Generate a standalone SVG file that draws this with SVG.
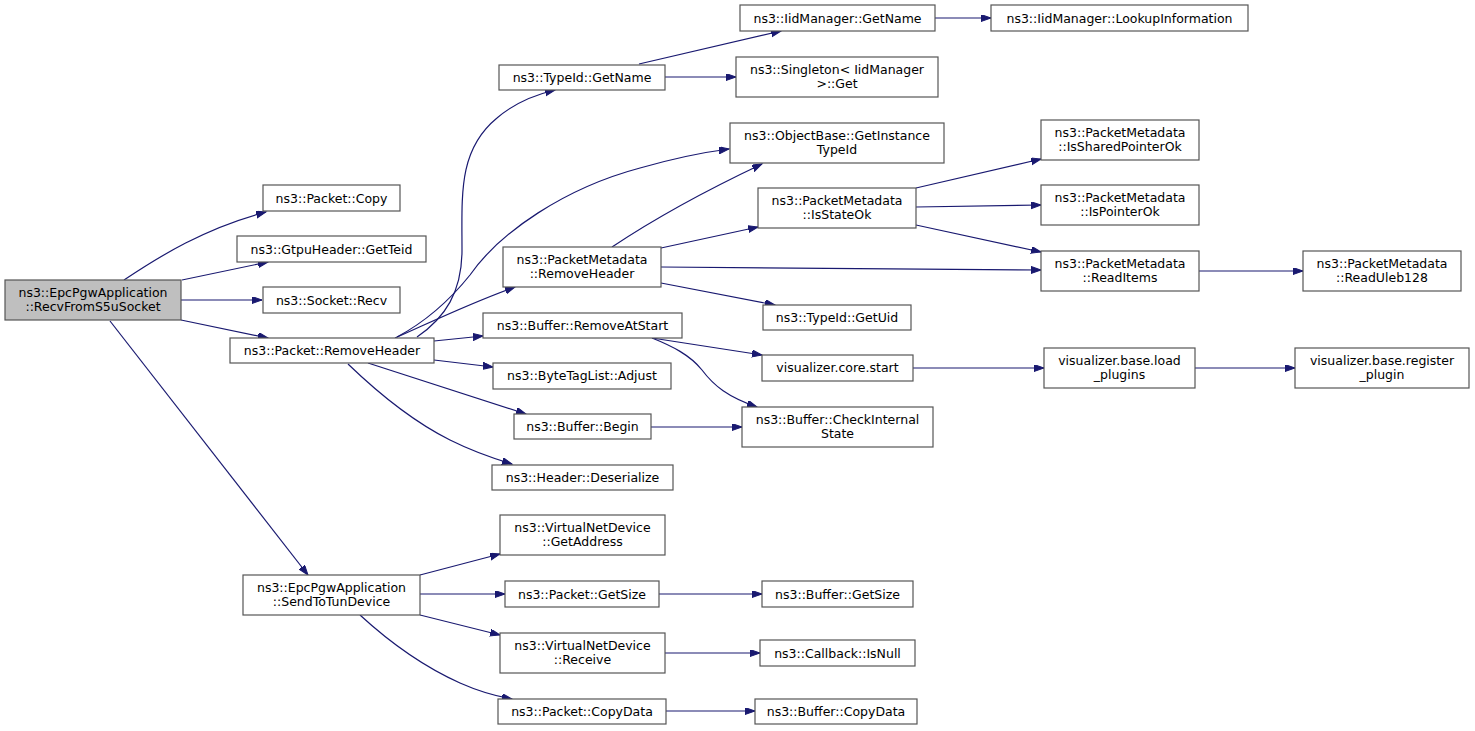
<svg xmlns="http://www.w3.org/2000/svg" width="1475" height="731" viewBox="0 0 1475 731">
<style>
.n rect{fill:#ffffff;stroke:#555555;stroke-width:1.2}
.n.root rect{fill:#bfbfbf}
.n text{font-family:"DejaVu Sans",sans-serif;font-size:12.5px;fill:#000000;text-anchor:middle}
#edges path{fill:none;stroke:#191970;stroke-width:1.2;marker-end:url(#arr)}
</style>
<defs>
<marker id="arr" markerUnits="userSpaceOnUse" markerWidth="12" markerHeight="9" refX="10" refY="3.5" orient="auto">
<path d="M0,0 L10,3.5 L0,7 z" fill="#191970" stroke="#191970" stroke-width="1"/>
</marker>
</defs>
<rect width="1475" height="731" fill="#ffffff"/>
<g id="edges">
<path d="M124,280 C160,256 205,228 266,212"/>
<path d="M182,280 L268,262"/>
<path d="M181,300 L262,300"/>
<path d="M181,320 L268,338"/>
<path d="M110,321 L308,575"/>
<path d="M417,337 C445,318 462,292 462,250 C462,195 458,150 497,118 C512,105 530,96 555,90"/>
<path d="M397,337 C425,322 450,300 470,275 C500,232 565,188 640,168 C668,160 698,153 729,149"/>
<path d="M395,338 C425,325 465,305 515,287"/>
<path d="M434,341 L483,336"/>
<path d="M434,360 L493,367"/>
<path d="M368,363 L526,414"/>
<path d="M348,364 C375,390 410,420 450,440 C472,451 492,458 512,464"/>
<path d="M639,64 L781,31"/>
<path d="M665,77 L736,77"/>
<path d="M935,18 L991,18"/>
<path d="M612,247 C645,225 690,198 762,164"/>
<path d="M661,248 L758,227"/>
<path d="M661,267 L1041,270"/>
<path d="M661,283 L775,305"/>
<path d="M916,188 L1041,159"/>
<path d="M916,207 L1041,205"/>
<path d="M916,225 L1041,252"/>
<path d="M1199,271 L1303,271"/>
<path d="M652,338 L762,355"/>
<path d="M652,338 C672,346 690,355 702,370 C714,386 728,397 757,407"/>
<path d="M913,368 L1044,368"/>
<path d="M1195,368 L1295,368"/>
<path d="M651,427 L742,427"/>
<path d="M420,575 L500,554"/>
<path d="M420,594 L505,594"/>
<path d="M420,615 L500,635"/>
<path d="M360,615 C385,638 420,665 460,683 C478,691 495,696 512,699"/>
<path d="M659,594 L762,594"/>
<path d="M664,653 L760,653"/>
<path d="M666,711 L755,711"/>
</g>
<g id="n1" class="n root"><rect x="5" y="280" width="176" height="40"/><text x="93" y="297">ns3::EpcPgwApplication</text><text x="93" y="311">::RecvFromS5uSocket</text></g>
<g id="n2" class="n"><rect x="263" y="185" width="137" height="26"/><text x="331.5" y="202.5">ns3::Packet::Copy</text></g>
<g id="n3" class="n"><rect x="237" y="236" width="189" height="26"/><text x="331.5" y="253.5">ns3::GtpuHeader::GetTeid</text></g>
<g id="n4" class="n"><rect x="263" y="287" width="137" height="26"/><text x="331.5" y="304.5">ns3::Socket::Recv</text></g>
<g id="n5" class="n"><rect x="230" y="338" width="204" height="25"/><text x="332" y="355">ns3::Packet::RemoveHeader</text></g>
<g id="n6" class="n"><rect x="499" y="65" width="166" height="25"/><text x="582" y="82">ns3::TypeId::GetName</text></g>
<g id="n7" class="n"><rect x="740" y="5" width="195" height="26"/><text x="837.5" y="22.5">ns3::IidManager::GetName</text></g>
<g id="n8" class="n"><rect x="991" y="5" width="257" height="26"/><text x="1119.5" y="22.5">ns3::IidManager::LookupInformation</text></g>
<g id="n9" class="n"><rect x="736" y="57" width="202" height="40"/><text x="837" y="74">ns3::Singleton&lt; IidManager</text><text x="837" y="88">&gt;::Get</text></g>
<g id="n10" class="n"><rect x="730" y="123" width="214" height="40"/><text x="837" y="140">ns3::ObjectBase::GetInstance</text><text x="837" y="154">TypeId</text></g>
<g id="n11" class="n"><rect x="758" y="188" width="158" height="40"/><text x="837" y="205">ns3::PacketMetadata</text><text x="837" y="219">::IsStateOk</text></g>
<g id="n12" class="n"><rect x="503" y="247" width="158" height="40"/><text x="582" y="264">ns3::PacketMetadata</text><text x="582" y="278">::RemoveHeader</text></g>
<g id="n13" class="n"><rect x="763" y="305" width="148" height="25"/><text x="837" y="322">ns3::TypeId::GetUid</text></g>
<g id="n14" class="n"><rect x="483" y="313" width="199" height="25"/><text x="582.5" y="330">ns3::Buffer::RemoveAtStart</text></g>
<g id="n15" class="n"><rect x="762" y="355" width="151" height="26"/><text x="837.5" y="372">visualizer.core.start</text></g>
<g id="n16" class="n"><rect x="493" y="363" width="178" height="26"/><text x="582" y="380">ns3::ByteTagList::Adjust</text></g>
<g id="n17" class="n"><rect x="514" y="414" width="137" height="25"/><text x="582.5" y="431">ns3::Buffer::Begin</text></g>
<g id="n18" class="n"><rect x="742" y="407" width="191" height="40"/><text x="837.5" y="424">ns3::Buffer::CheckInternal</text><text x="837.5" y="438">State</text></g>
<g id="n19" class="n"><rect x="492" y="465" width="181" height="25"/><text x="582.5" y="482">ns3::Header::Deserialize</text></g>
<g id="n20" class="n"><rect x="1041" y="120" width="158" height="40"/><text x="1120" y="137">ns3::PacketMetadata</text><text x="1120" y="151">::IsSharedPointerOk</text></g>
<g id="n21" class="n"><rect x="1041" y="185" width="158" height="40"/><text x="1120" y="202">ns3::PacketMetadata</text><text x="1120" y="216">::IsPointerOk</text></g>
<g id="n22" class="n"><rect x="1041" y="251" width="158" height="40"/><text x="1120" y="268">ns3::PacketMetadata</text><text x="1120" y="282">::ReadItems</text></g>
<g id="n23" class="n"><rect x="1303" y="251" width="158" height="40"/><text x="1382" y="268">ns3::PacketMetadata</text><text x="1382" y="282">::ReadUleb128</text></g>
<g id="n24" class="n"><rect x="1044" y="348" width="151" height="40"/><text x="1119.5" y="365">visualizer.base.load</text><text x="1119.5" y="379">_plugins</text></g>
<g id="n25" class="n"><rect x="1295" y="348" width="174" height="40"/><text x="1382" y="365">visualizer.base.register</text><text x="1382" y="379">_plugin</text></g>
<g id="n26" class="n"><rect x="243" y="575" width="177" height="40"/><text x="331.5" y="592">ns3::EpcPgwApplication</text><text x="331.5" y="606">::SendToTunDevice</text></g>
<g id="n27" class="n"><rect x="500" y="515" width="165" height="40"/><text x="582.5" y="532">ns3::VirtualNetDevice</text><text x="582.5" y="546">::GetAddress</text></g>
<g id="n28" class="n"><rect x="505" y="581" width="154" height="26"/><text x="582" y="598.5">ns3::Packet::GetSize</text></g>
<g id="n29" class="n"><rect x="762" y="581" width="151" height="26"/><text x="837.5" y="598.5">ns3::Buffer::GetSize</text></g>
<g id="n30" class="n"><rect x="500" y="633" width="165" height="40"/><text x="582.5" y="650">ns3::VirtualNetDevice</text><text x="582.5" y="664">::Receive</text></g>
<g id="n31" class="n"><rect x="760" y="640" width="155" height="26"/><text x="837.5" y="657.5">ns3::Callback::IsNull</text></g>
<g id="n32" class="n"><rect x="498" y="699" width="168" height="25"/><text x="582" y="716">ns3::Packet::CopyData</text></g>
<g id="n33" class="n"><rect x="755" y="699" width="162" height="25"/><text x="836" y="716">ns3::Buffer::CopyData</text></g>
</svg>
